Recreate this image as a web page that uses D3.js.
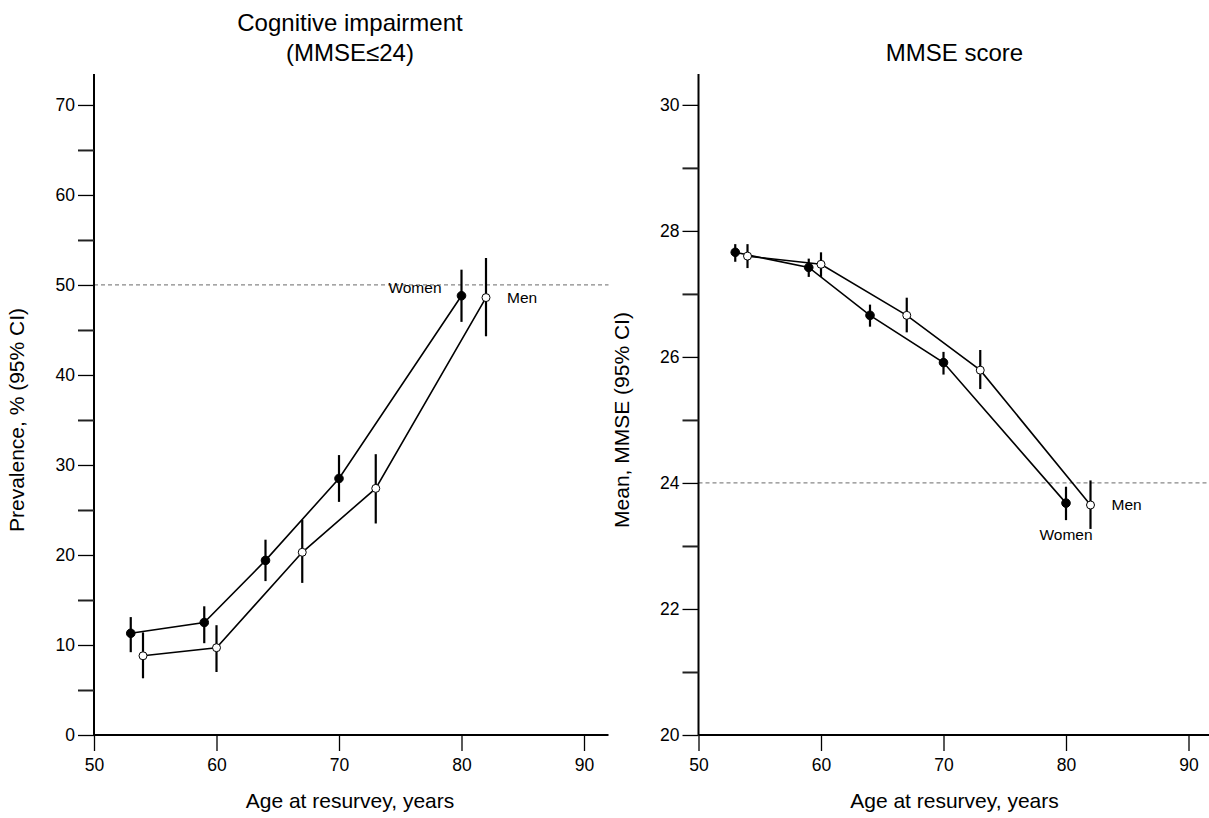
<!DOCTYPE html>
<html>
<head>
<meta charset="utf-8">
<script src="https://cdn.jsdelivr.net/npm/d3@7"></script>
<style>
  body { margin: 0; background: #fff; }
  svg { font-family: "Liberation Sans", Arial, sans-serif; }
  .tick text { font-size: 17.5px; fill: #000; }
</style>
</head>
<body>
<svg id="chart" width="1209" height="818"></svg>
<script>
// ages at resurvey (women and men are offset a bit)
var womenAge = [53, 59, 64, 70, 80];
var menAge = [54, 60, 67, 73, 82];

// cognitive impairment prevalence, %
var prevWomen = [11.3, 12.5, 19.4, 28.5, 48.8];
var prevWomenLo = [9.2, 10.2, 17.1, 25.9, 45.9];
var prevWomenHi = [13.1, 14.3, 21.7, 31.1, 51.7];
var prevMen = [8.8, 9.7, 20.3, 27.4, 48.6];
var prevMenLo = [6.3, 7.0, 16.9, 23.5, 44.3];
var prevMenHi = [11.4, 12.2, 23.9, 31.2, 53.0];

// mean MMSE score
var mmseWomen = [27.66, 27.42, 26.66, 25.91, 23.68];
var mmseWomenLo = [27.51, 27.27, 26.48, 25.72, 23.41];
var mmseWomenHi = [27.79, 27.56, 26.83, 26.08, 23.94];
var mmseMen = [27.60, 27.47, 26.66, 25.79, 23.65];
var mmseMenLo = [27.41, 27.27, 26.39, 25.49, 23.27];
var mmseMenHi = [27.79, 27.66, 26.94, 26.11, 24.04];

var xTicks = [50, 60, 70, 80, 90];
var prevTicks = [0, 10, 20, 30, 40, 50, 60, 70];
var prevMinor = [5, 15, 25, 35, 45, 55, 65];
var mmseTicks = [20, 22, 24, 26, 28, 30];
var mmseMinor = [21, 23, 25, 27, 29];

var svg = d3.select("#chart");

function zip(ages, vals, lo, hi) {
  return ages.map(function (a, i) {
    return { age: a, v: vals[i], lo: lo[i], hi: hi[i] };
  });
}

function drawPanel(opt) {
  var x = d3.scaleLinear().domain([50, 92]).range([opt.left, opt.left + 514.5]);
  var y = d3.scaleLinear().domain(opt.yDomain).range([735, 74]);
  var g = svg.append("g");

  // reference line
  g.append("line")
    .attr("x1", opt.left).attr("x2", opt.left + 514.5)
    .attr("y1", y(opt.refLine)).attr("y2", y(opt.refLine))
    .attr("stroke", "#888").attr("stroke-width", 1.2)
    .attr("stroke-dasharray", "4,3");

  // axes
  var xAxis = g.append("g").attr("transform", "translate(0,735)")
    .call(d3.axisBottom(x).tickValues(xTicks).tickSize(16).tickPadding(8).tickFormat(d3.format("d")));
  var yAxis = g.append("g").attr("transform", "translate(" + opt.left + ",0)")
    .call(d3.axisLeft(y).tickValues(opt.ticks).tickSize(16).tickPadding(3).tickFormat(d3.format("d")));
  var minorAxis = g.append("g").attr("transform", "translate(" + opt.left + ",0)")
    .call(d3.axisLeft(y).tickValues(opt.minor).tickSize(16).tickFormat(""));
  minorAxis.select(".domain").remove();
  g.selectAll(".domain").attr("stroke", "#000").attr("stroke-width", 2);
  g.selectAll(".tick line").attr("stroke", "#000").attr("stroke-width", 1.3);
  minorAxis.selectAll(".tick line").attr("stroke", "#222").attr("stroke-width", 2);
  xAxis.select(".domain").attr("d", "M" + opt.left + ",0H" + (opt.left + 514.5));
  yAxis.select(".domain").attr("d", "M0,735V74");

  // titles
  var title = g.append("text")
    .attr("x", opt.left + 256).attr("text-anchor", "middle")
    .attr("font-size", "24px");
  opt.title.forEach(function (t, i) {
    title.append("tspan").attr("x", opt.left + 256)
      .attr("y", opt.titleY + i * 30).text(t);
  });
  g.append("text")
    .attr("x", opt.left + 256).attr("y", 808)
    .attr("text-anchor", "middle").attr("font-size", "21px")
    .text("Age at resurvey, years");
  g.append("text")
    .attr("transform", "translate(" + (opt.left - 70) + ",420) rotate(-90)")
    .attr("text-anchor", "middle").attr("font-size", "21px")
    .text(opt.yLabel);

  var line = d3.line()
    .x(function (d) { return x(d.age); })
    .y(function (d) { return y(d.v); });

  opt.series.forEach(function (s) {
    g.append("path").datum(s.data)
      .attr("d", line).attr("fill", "none")
      .attr("stroke", "#000").attr("stroke-width", 1.6);
  });
  opt.series.forEach(function (s) {
    g.selectAll(null).data(s.data).enter().append("line")
      .attr("x1", function (d) { return x(d.age); })
      .attr("x2", function (d) { return x(d.age); })
      .attr("y1", function (d) { return y(d.lo); })
      .attr("y2", function (d) { return y(d.hi); })
      .attr("stroke", "#000").attr("stroke-width", 2.2);
    g.selectAll(null).data(s.data).enter().append("circle")
      .attr("cx", function (d) { return x(d.age); })
      .attr("cy", function (d) { return y(d.v); })
      .attr("r", s.filled ? 4.3 : 4)
      .attr("fill", s.filled ? "#000" : "#fff")
      .attr("stroke", "#000").attr("stroke-width", 1);
  });

  opt.labels.forEach(function (l) {
    g.append("text")
      .attr("x", x(l.age) + l.dx).attr("y", y(l.v) + l.dy)
      .attr("text-anchor", l.anchor).attr("font-size", "15.5px")
      .text(l.text);
  });
}

drawPanel({
  left: 94,
  yDomain: [0, 73.44],
  ticks: prevTicks,
  minor: prevMinor,
  refLine: 50,
  title: ["Cognitive impairment", "(MMSE\u226424)"],
  titleY: 31,
  yLabel: "Prevalence, % (95% CI)",
  series: [
    { data: zip(womenAge, prevWomen, prevWomenLo, prevWomenHi), filled: true },
    { data: zip(menAge, prevMen, prevMenLo, prevMenHi), filled: false }
  ],
  labels: [
    { text: "Women", age: womenAge[4], v: prevWomen[4], dx: -20, dy: -3, anchor: "end" },
    { text: "Men", age: menAge[4], v: prevMen[4], dx: 21, dy: 5, anchor: "start" }
  ]
});

drawPanel({
  left: 698.5,
  yDomain: [20, 30.49],
  ticks: mmseTicks,
  minor: mmseMinor,
  refLine: 24,
  title: ["MMSE score"],
  titleY: 61,
  yLabel: "Mean, MMSE (95% CI)",
  series: [
    { data: zip(womenAge, mmseWomen, mmseWomenLo, mmseWomenHi), filled: true },
    { data: zip(menAge, mmseMen, mmseMenLo, mmseMenHi), filled: false }
  ],
  labels: [
    { text: "Women", age: womenAge[4], v: mmseWomen[4], dx: 0, dy: 37, anchor: "middle" },
    { text: "Men", age: menAge[4], v: mmseMen[4], dx: 21, dy: 5, anchor: "start" }
  ]
});
</script>
</body>
</html>
